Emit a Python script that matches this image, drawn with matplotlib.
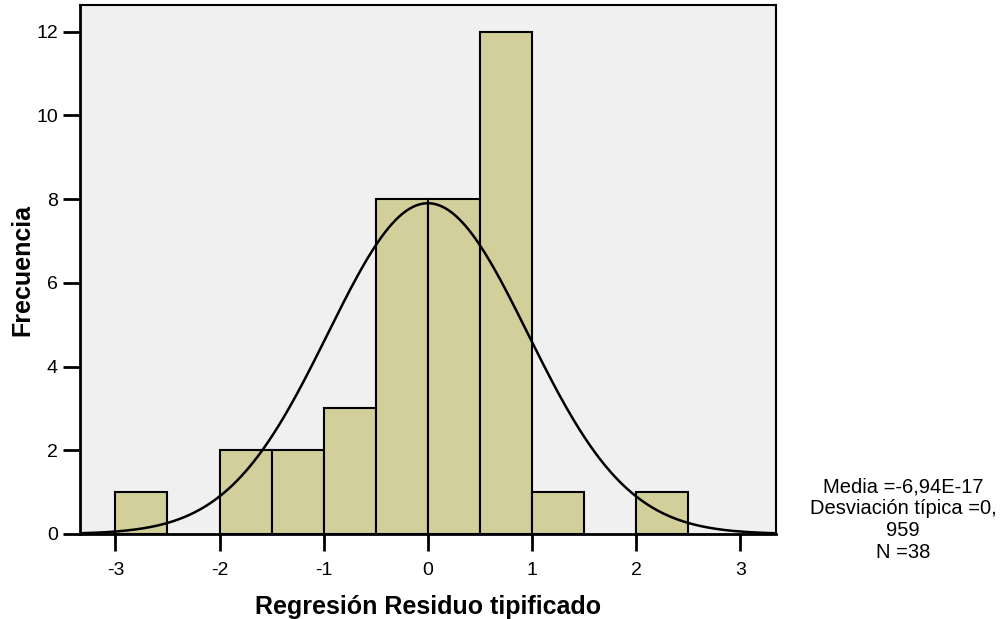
import numpy as np
import matplotlib.pyplot as plt

plt.rcParams['font.family'] = ['Liberation Sans', 'DejaVu Sans']
plt.rcParams['axes.unicode_minus'] = False

# histogram bins (width 0.5) and counts
bin_edges = [-3.0, -2.5, -2.0, -1.5, -1.0, -0.5, 0.0, 0.5, 1.0, 1.5, 2.0, 2.5]
counts = [1, 0, 2, 2, 3, 8, 8, 12, 1, 0, 1]

media = -6.94e-17
desv = 0.959
n = 38

x_ticks = [-3, -2, -1, 0, 1, 2, 3]
y_ticks = [0, 2, 4, 6, 8, 10, 12]

fig = plt.figure(figsize=(10.05, 6.19), dpi=100)
ax = fig.add_axes([80 / 1005, 1 - 534 / 619, (775.7 - 80) / 1005, (534 - 5) / 619])
ax.set_facecolor('#f0f0f0')

edges = np.array(bin_edges)
widths = np.diff(edges)
for left, w, c in zip(edges[:-1], widths, counts):
    if c > 0:
        ax.bar(left, c, width=w, align='edge', color='#d3cf9b',
               edgecolor='black', linewidth=1.5, zorder=2)

# normal curve scaled to the histogram
xs = np.linspace(-3.34, 3.34, 400)
bw = widths[0]
ys = n * bw / (desv * np.sqrt(2 * np.pi)) * np.exp(-0.5 * ((xs - media) / desv) ** 2)
ax.plot(xs, ys, color='black', linewidth=1.8, zorder=3)

ax.set_xlim(-3.34, 3.34)
ax.set_ylim(0, 12.64)
ax.set_xticks(x_ticks)
ax.set_yticks(y_ticks)
ax.tick_params(direction='out', length=12, width=2, labelsize=14, pad=4)
ax.tick_params(axis='x', pad=8)
for s in ax.spines.values():
    s.set_linewidth(1.5)
ax.spines['left'].set_linewidth(2)
ax.spines['bottom'].set_linewidth(2)

ax.set_xlabel('Regresión Residuo tipificado', fontsize=18, fontweight='bold', labelpad=12)
ax.set_ylabel('Frecuencia', fontsize=18, fontweight='bold')
ax.yaxis.set_label_coords(-0.065, 0.5)

fig.text(903 / 1005, 1 - 520 / 619,
         'Media =-6,94E-17\nDesviación típica =0,\n959\nN =38',
         ha='center', va='center', fontsize=14.5, linespacing=1.2)

fig.savefig('out.png', dpi=100)
